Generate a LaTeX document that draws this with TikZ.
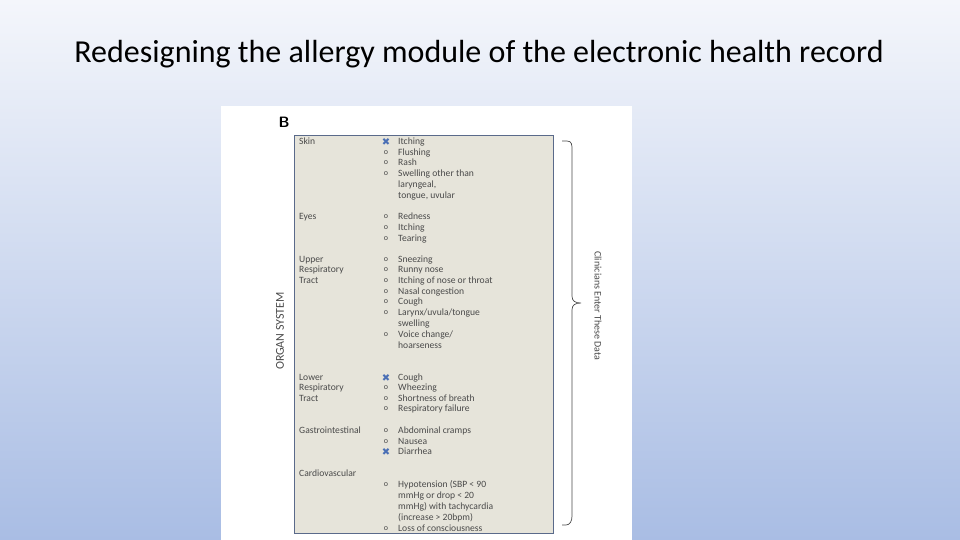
\documentclass[tikz,border=0pt]{standalone}
\usepackage{fontspec}
\setmainfont{Carlito}
\newfontfamily\djv{DejaVu Sans}
\definecolor{bgtop}{HTML}{F4F6FB}
\definecolor{bgbot}{HTML}{A9BDE4}
\definecolor{tab}{HTML}{E6E4DA}
\definecolor{tabline}{HTML}{5A6A8A}
\definecolor{txt}{HTML}{4A4A4A}
\definecolor{xm}{HTML}{4A6FB5}
\tikzset{lab/.style={anchor=west,inner sep=0pt,text height=6.5pt,text depth=1.8pt,font=\fontsize{9.6}{10}\selectfont,text=txt},
 bul/.style={anchor=center,inner sep=0pt,font=\fontsize{8}{8}\selectfont,text=txt},
 xmark/.style={anchor=center,inner sep=0pt,font=\bfseries\fontsize{10}{10}\selectfont,text=xm}}
\newcommand{\itm}[3]{\node[bul] (b#1) at (386,#2) {o}; \node[lab] (t#1) at (398,#2) {#3};}
\newcommand{\xitm}[3]{\node[xmark] (b#1) at (386,#2) {\djv ✖}; \node[lab] (t#1) at (398,#2) {#3};}
\newcommand{\cnt}[3]{\node[lab] (t#1) at (398,#2) {#3};}
\begin{document}
\begin{tikzpicture}[x=1pt,y=-1pt]
\shade[top color=bgtop,bottom color=bgbot] (0,0) rectangle (960,540);
\useasboundingbox (0,0) rectangle (960,540);
\node[font=\fontsize{32}{36}\selectfont,text=black] (title) at (479,54) {Redesigning the allergy module of the electronic health record};
\fill[white] (221,106) rectangle (632,540);
\node[anchor=center,font=\sffamily\bfseries\fontsize{15}{16}\selectfont] (B) at (284,122) {B};
\draw[tabline,fill=tab,line width=0.8pt] (294,135) rectangle (553,533);
\foreach \n/\y/\s in {a/142/Skin,b/217/Eyes,c/260/Upper,c2/270/Respiratory,c3/281/Tract,d/378/Lower,d2/388/Respiratory,d3/399/Tract,e/431/Gastrointestinal,f/474/Cardiovascular}
  \node[lab] (l\n) at (299,\y) {\s};
\xitm{1}{142}{Itching}\itm{2}{153}{Flushing}\itm{3}{163}{Rash}\itm{4}{174}{Swelling other than}
\cnt{5}{185}{laryngeal,}\cnt{6}{196}{tongue, uvular}
\itm{7}{217}{Redness}\itm{8}{228}{Itching}\itm{9}{239}{Tearing}
\itm{10}{260}{Sneezing}\itm{11}{270}{Runny nose}\itm{12}{281}{Itching of nose or throat}
\itm{13}{292}{Nasal congestion}\itm{14}{302}{Cough}\itm{15}{313}{Larynx/uvula/tongue}
\cnt{16}{324}{swelling}\itm{17}{335}{Voice change/}\cnt{18}{346}{hoarseness}
\xitm{19}{378}{Cough}\itm{20}{388}{Wheezing}\itm{21}{399}{Shortness of breath}\itm{22}{409}{Respiratory failure}
\itm{23}{431}{Abdominal cramps}\itm{24}{442}{Nausea}\xitm{25}{452}{Diarrhea}
\itm{26}{485}{Hypotension (SBP < 90}\cnt{27}{496}{mmHg or drop < 20}\cnt{28}{507}{mmHg) with tachycardia}
\cnt{29}{518}{(increase > 20bpm)}\itm{30}{529}{Loss of consciousness}
\node[rotate=90,font=\fontsize{12}{12}\selectfont,text=txt] (org) at (280,331) {ORGAN SYSTEM};
\coordinate (bt) at (562,141); \coordinate (bb) at (562,525);
\draw[txt,line width=0.7pt] (bt) -- (567,141) .. controls (572,141) and (572,145) .. (572,150) -- (572,296) .. controls (572,301) and (575,303) .. (581,303) .. controls (575,303) and (572,305) .. (572,310) -- (572,516) .. controls (572,521) and (570,525) .. (566,525) -- (bb);
\node[rotate=-90,font=\fontsize{10}{10}\selectfont,text=txt] (cli) at (598,306) {Clinicians Enter These Data};
\end{tikzpicture}
\end{document}
